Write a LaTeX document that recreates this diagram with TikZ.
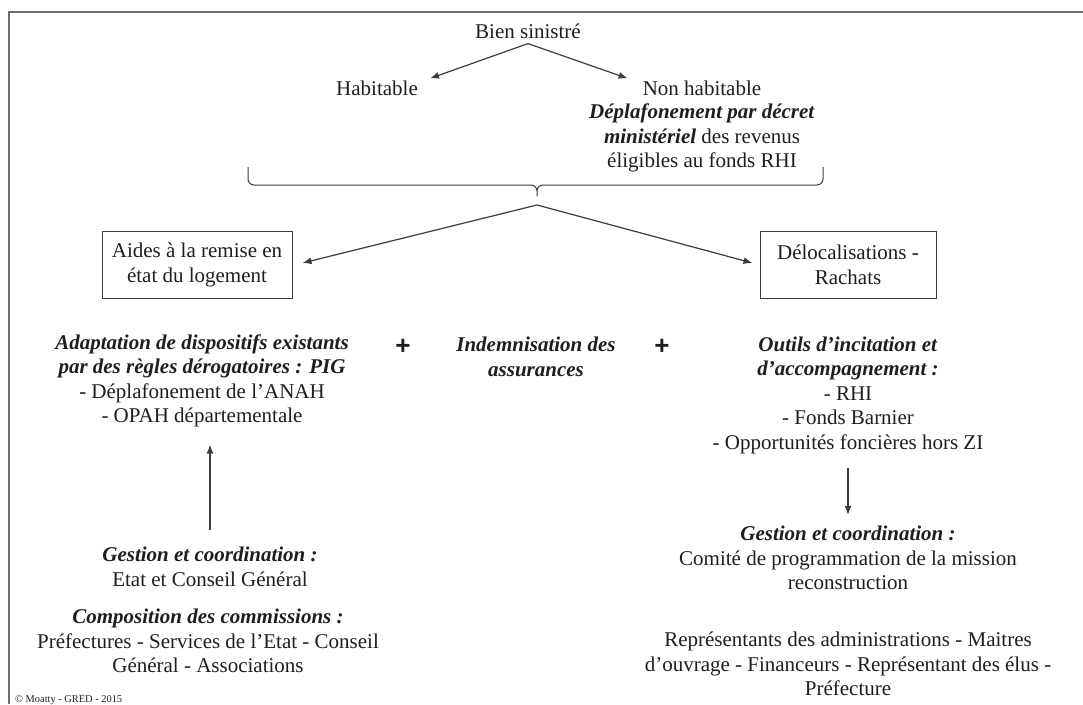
\documentclass[tikz,border=0pt]{standalone}
\usepackage{fontspec}
\setmainfont{Liberation Serif}
\newfontfamily\plusfont{Liberation Sans}
\usepackage{xcolor}
\usepackage{tikz}
\usetikzlibrary{arrows.meta,positioning}
\definecolor{inkc}{HTML}{1E1E1E}
\definecolor{linec}{HTML}{3C3C3C}
\definecolor{framec}{HTML}{6E6E6E}
\tikzset{
  ar/.style={-{Latex[length=9pt,width=7pt]},line width=1.2pt,linec},
  txt/.style={align=center,font=\fontsize{21}{24.5}\selectfont,text=inkc,inner sep=2pt},
  hd/.style={txt,font=\fontsize{21}{24.5}\selectfont\bfseries\itshape},
  box/.style={txt,draw=linec,line width=1pt,minimum height=67pt},
  plus/.style={font={\plusfont\fontsize{26}{28}\selectfont\bfseries},text=inkc,inner sep=0pt}
}
\newcommand{\bi}[1]{\textbf{\textit{#1}}}

\begin{document}
\begin{tikzpicture}[x=1pt,y=-1pt]
\useasboundingbox (0,0) rectangle (1083,704);
\draw[framec,line width=1.6pt] (9,704) -- (9,12) -- (1083,12);
% top level
\node[txt] (bien) at (528,31) {Bien sinistré};
\node[txt] (hab) at (377,88) {Habitable};
\node[txt] (nonhab) at (702,88) {Non habitable};
\node[txt] (deplaf) at (702,138) {\bi{Déplafonement par décret}\\ \bi{ministériel} des revenus\\ éligibles au fonds RHI};
\coordinate (apex) at ([yshift=-3pt]bien.south);
\draw[ar] (apex) -- ([xshift=10pt]hab.north east);
\draw[ar] (apex) -- ([xshift=-13pt]nonhab.north west);
% brace
\draw[linec,line width=1pt,rounded corners=6pt] (248,167) -- (248,185) -- (537,185) -- (537,200) -- (537,185) -- (823,185) -- (823,167);
\coordinate (btip) at (537,205);
% boxes
\node[box,minimum width=190pt] (aides) at (197,265) {Aides à la remise en\\ état du logement};
\node[box,minimum width=176pt] (deloc) at (848,265) {Délocalisations -\\ Rachats};
\draw[ar] (btip) -- ([xshift=10pt,yshift=2pt]aides.east);
\draw[ar] (btip) -- ([xshift=-7pt,yshift=2pt]deloc.west);
% measures
\node[txt] (adapt) at (202,381) {\bi{Adaptation de dispositifs existants}\\ \bi{par des règles dérogatoires : PIG}\\ - Déplafonement de l’ANAH\\ - OPAH départementale};
\node[plus] (plusa) at (403,347) {+};
\node[hd] (indem) at (536,357) {Indemnisation des\\ assurances};
\node[plus] (plusb) at (662,347) {+};
\node[txt] (outils) at (848,395) {\bi{Outils d’incitation et}\\ \bi{d’accompagnement :}\\ - RHI\\ - Fonds Barnier\\ - Opportunités foncières hors ZI};
% management
\node[txt] (gestL) at (210,567) {\bi{Gestion et coordination :}\\ Etat et Conseil Général};
\node[txt] (compL) at (208,641) {\bi{Composition des commissions :}\\ Préfectures - Services de l’Etat - Conseil\\ Général - Associations};
\node[txt] (gestR) at (848,558) {\bi{Gestion et coordination :}\\ Comité de programmation de la mission\\ reconstruction};
\node[txt] (repR) at (848,664) {Représentants des administrations - Maitres\\ d’ouvrage - Financeurs - Représentant des élus -\\ Préfecture};
\draw[ar,shorten <=15pt,shorten >=15pt] (gestL.north) -- (gestL.north |- adapt.south);
\draw[ar,shorten <=12pt,shorten >=9pt] (outils.south) -- (gestR.north);
\node[anchor=base west,inner sep=0pt,font=\fontsize{10.4}{12}\selectfont,text=inkc] (copy) at (15,702) {© Moatty - GRED - 2015};
\end{tikzpicture}
\end{document}
